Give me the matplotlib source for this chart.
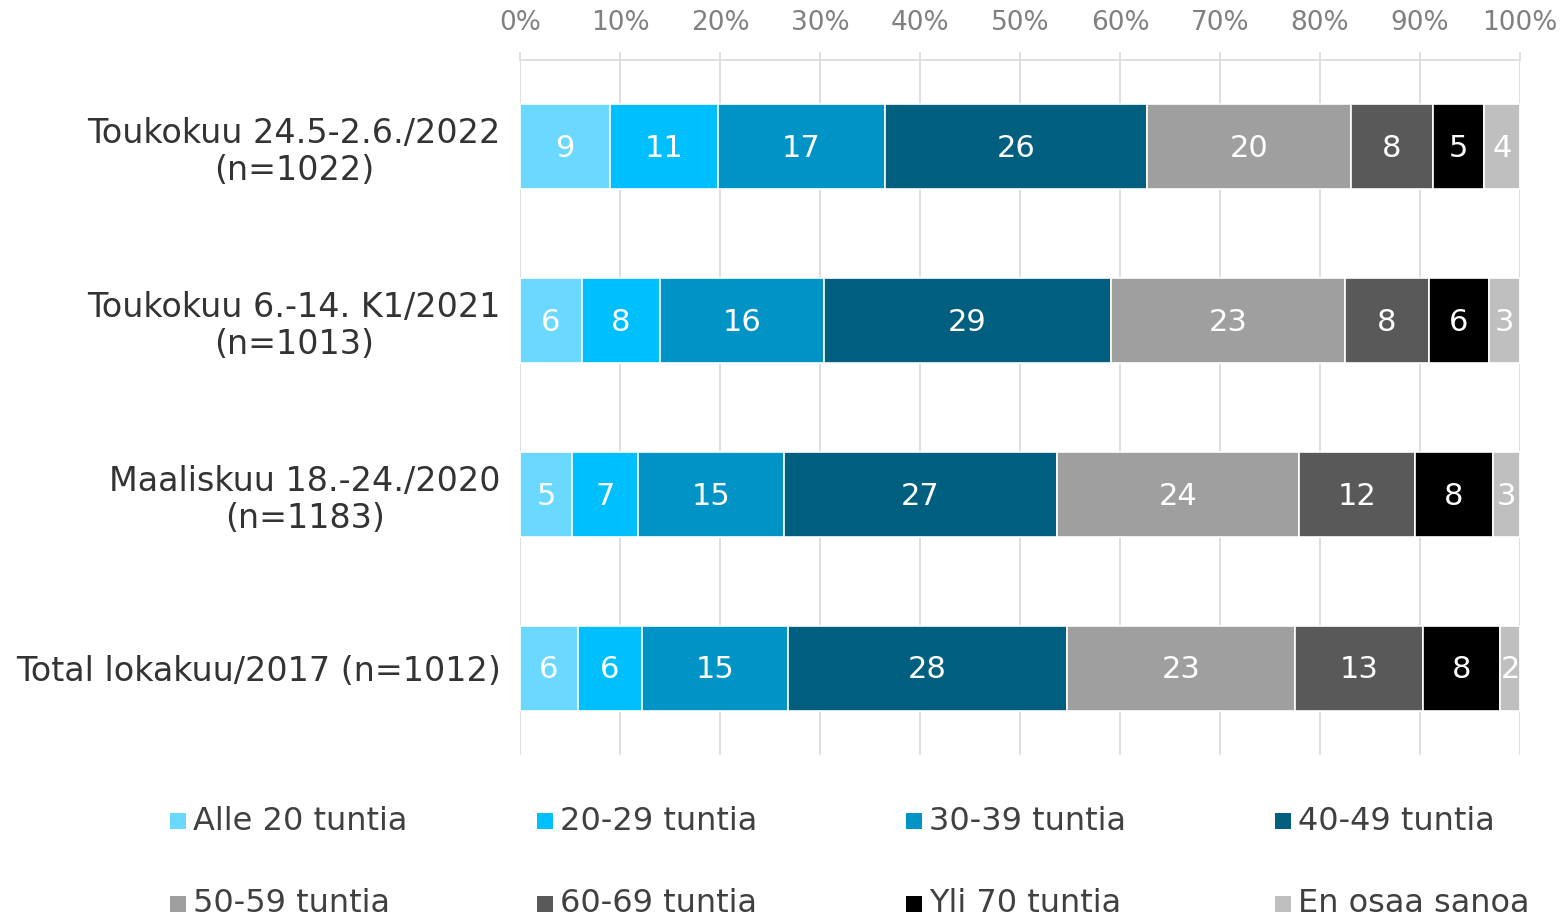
import numpy as np
import matplotlib.pyplot as plt
from matplotlib.patches import Rectangle

# ===================== DATA =====================

rows = [
    "Toukokuu 24.5-2.6./2022\n(n=1022)",
    "Toukokuu 6.-14. K1/2021\n(n=1013)",
    "Maaliskuu 18.-24./2020\n(n=1183)",
    "Total lokakuu/2017 (n=1012)",
]

series = [
    "Alle 20 tuntia", "20-29 tuntia", "30-39 tuntia", "40-49 tuntia",
    "50-59 tuntia", "60-69 tuntia", "Yli 70 tuntia", "En osaa sanoa",
]

# shares (%) per row
alle20 = [9.0, 6.2, 5.2, 5.8]
h20_29 = [10.8, 7.8, 6.6, 6.4]
h30_39 = [16.7, 16.4, 14.6, 14.6]
h40_49 = [26.2, 28.7, 27.3, 27.9]
h50_59 = [20.4, 23.4, 24.2, 22.8]
h60_69 = [8.2, 8.4, 11.6, 12.8]
yli70 = [5.1, 6.0, 7.8, 7.7]
eos = [3.6, 3.1, 2.7, 2.0]

# labels as printed in the bars
labels = [
    [9, 6, 5, 6],
    [11, 8, 7, 6],
    [17, 16, 15, 15],
    [26, 29, 27, 28],
    [20, 23, 24, 23],
    [8, 8, 12, 13],
    [5, 6, 8, 8],
    [4, 3, 3, 2],
]

colors = ["#6AD8FF", "#00BFFF", "#0093C6", "#005E7F",
          "#9F9F9F", "#595959", "#000000", "#BFBFBF"]

values = [alle20, h20_29, h30_39, h40_49, h50_59, h60_69, yli70, eos]

# ===================== PLOT =====================

fig = plt.figure(figsize=(15.65, 9.17), dpi=100)
ax = fig.add_axes([520 / 1565, 1 - 755 / 917, 1000 / 1565, 695 / 917])

y = np.arange(len(rows))
left = np.zeros(len(rows))
for vals, lab, col in zip(values, labels, colors):
    vals = np.array(vals)
    ax.barh(y, vals, left=left, height=0.49, color=col,
            edgecolor="white", linewidth=1.2, zorder=3)
    for yi, (l, v, t) in enumerate(zip(left, vals, lab)):
        ax.text(l + v / 2, yi + 0.01, str(t), ha="center", va="center",
                color="white", fontsize=22, zorder=4)
    left += vals

ax.set_xlim(0, 100)
ax.set_ylim(len(rows) - 0.5, -0.5)

ax.xaxis.tick_top()
ax.set_xticks(np.arange(0, 101, 10))
ax.set_xticklabels([f"{v}%" for v in range(0, 101, 10)])
ax.tick_params(axis="x", colors="#D9D9D9", length=6, width=1.2,
               labelcolor="#808080", labelsize=19, pad=11)
ax.grid(axis="x", color="#D9D9D9", linewidth=1.2, zorder=0)

ax.set_yticks(y)
ax.set_yticklabels(rows)
ax.tick_params(axis="y", length=0, pad=14, labelsize=24,
               labelcolor="#333333")
for t in ax.get_yticklabels():
    t.set_multialignment("center")
    t.set_linespacing(1.15)

for s in ["left", "right", "bottom"]:
    ax.spines[s].set_visible(False)
ax.spines["top"].set_color("#D9D9D9")
ax.spines["top"].set_linewidth(1.2)

# ---------- legend (4 x 2 grid) ----------
col_x = [170, 537, 906, 1275]
row_y = [821, 904]
for i, (name, col) in enumerate(zip(series, colors)):
    px = col_x[i % 4]
    py = row_y[i // 4]
    fig.add_artist(Rectangle((px / 1565, 1 - (py + 8) / 917), 16 / 1565, 16 / 917,
                             transform=fig.transFigure, facecolor=col,
                             edgecolor="none"))
    fig.text((px + 23) / 1565, 1 - py / 917, name, ha="left", va="center",
             fontsize=23, color="#404040")

fig.savefig("out.png", dpi=100)
